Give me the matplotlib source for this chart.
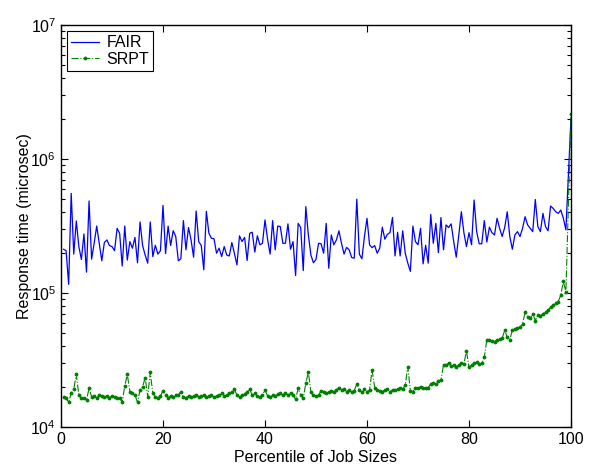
import numpy as np
import matplotlib
matplotlib.use("Agg")
import matplotlib.pyplot as plt

plt.rcParams['font.family'] = ['Liberation Sans', 'DejaVu Sans']
plt.rcParams['mathtext.fontset'] = 'custom'
plt.rcParams['mathtext.rm'] = 'Liberation Sans'
plt.rcParams['mathtext.it'] = 'Liberation Sans'

# Percentile of job sizes (x)
percentiles = np.append(np.arange(0.5, 99.01, 0.5), 100.0)

# FAIR response times (thousands of microseconds)
fair_k = [
    212, 207, 116, 554, 195, 345, 222, 178, 276, 143,
    486, 179, 235, 316, 235, 174, 238, 249, 226, 222,
    207, 304, 279, 159, 316, 176, 242, 216, 260, 168,
    339, 226, 192, 167, 339, 187, 227, 195, 207, 451,
    197, 316, 226, 292, 264, 174, 180, 347, 210, 308,
    249, 185, 409, 242, 226, 149, 407, 279, 256, 254,
    198, 216, 187, 222, 192, 189, 238, 198, 162, 267,
    242, 260, 175, 279, 284, 202, 267, 229, 235, 351,
    252, 195, 347, 210, 316, 313, 235, 235, 328, 212,
    242, 135, 331, 308, 147, 441, 271, 192, 168, 178,
    235,
    233, 198, 331, 153, 271, 229, 249, 291, 235, 195,
    219, 210, 184, 182, 502, 195, 180, 264, 361, 229,
    218, 226, 198, 216, 310, 252, 274, 282, 366, 189,
    284, 189, 291, 198, 167, 145, 316, 242, 229, 304,
    165, 227, 167, 386, 235, 331, 200, 366, 210, 322,
    308, 328, 242, 185, 271, 404, 282, 222, 282, 229,
    494, 287, 233, 233, 347, 240, 310, 282, 271, 361,
    304, 264, 308, 404, 264, 212, 271, 287, 264, 304,
    371, 322, 304, 287, 499, 313, 287, 393, 313, 291,
    446, 428, 404, 393, 416, 361, 296,
    2020,
]

# SRPT response times (thousands of microseconds)
srpt_k = [
    16.8, 16.4, 15.3, 17.8, 19.1, 24.7, 17.3, 16.6, 16.4, 15.9,
    19.4, 16.8, 17.0, 16.6, 17.3, 17.0, 16.8, 17.0, 16.6, 17.0,
    16.8, 16.6, 16.4, 15.4, 20.2, 24.7, 18.4, 17.8, 17.3, 15.3,
    18.9, 19.9, 23.4, 16.8, 25.6, 17.8, 16.8, 16.6, 17.0, 18.7,
    17.3, 16.6, 17.0, 16.8, 17.3, 17.3, 18.4, 16.8, 16.6, 17.0,
    16.8, 17.0, 17.3, 16.8, 17.0, 17.3, 16.8, 17.0, 17.3, 16.8,
    17.0, 17.3, 17.8, 17.0, 17.3, 17.8, 18.4, 19.1, 17.3, 16.8,
    17.3, 17.5, 18.4, 19.1, 17.3, 17.8, 17.0, 16.8, 17.3, 18.9,
    17.0, 16.8, 17.3, 17.0, 17.6, 17.8, 17.3, 18.0, 17.3, 17.8,
    17.3, 16.1, 19.4, 17.3, 16.4, 21.2, 25.6, 18.4, 17.3, 17.0,
    17.3,
    18.7, 18.4, 17.8, 18.1, 18.7, 18.4, 18.9, 19.7, 18.9, 19.1,
    18.4, 18.9, 18.4, 18.7, 20.9, 18.9, 18.1, 19.1, 18.4, 18.9,
    26.6, 19.7, 18.9, 18.7, 18.4, 18.9, 19.1, 18.4, 18.9, 18.9,
    19.1, 19.4, 19.1, 20.6, 28.2, 18.7, 18.4, 19.7, 19.4, 20.0,
    19.7, 19.7, 19.7, 20.9, 21.4, 21.1, 22.1, 22.4, 29.0, 29.0,
    29.9, 28.5, 29.0, 28.2, 29.0, 29.9, 29.4, 37.1, 27.8, 29.0,
    29.9, 30.3, 29.4, 29.9, 33.2, 44.6, 44.6, 43.9, 43.4, 44.6,
    45.1, 45.9, 52.9, 46.6, 44.6, 52.9, 53.8, 54.5, 55.5, 58.8,
    71.6, 66.6, 64.7, 69.8, 62.2, 68.6, 67.4, 69.8, 72.6, 74.7,
    78.2, 81.4, 83.8, 86.2, 96.6, 122, 102,
    2170,
]

fair = np.array(fair_k) * 1000.0
srpt = np.array(srpt_k) * 1000.0

fig = plt.figure(figsize=(5.9, 4.68), dpi=100)
ax = fig.add_axes([61/590, 1 - 427/468, 510/590, 402/468])

ax.semilogy(percentiles, fair, color='#0000ff', lw=0.9, label='FAIR')
ax.semilogy(percentiles, srpt, color='#008000', ls='-.', lw=0.8,
            marker='.', ms=3.5, label='SRPT')

ax.set_xlim(0, 100)
ax.set_ylim(1e4, 1e7)
ax.set_xticks([0, 20, 40, 60, 80, 100])

fs = 11.5
ax.tick_params(which='both', direction='in', top=True, right=True,
               labelsize=fs, width=0.8)
ax.tick_params(which='major', length=5)
ax.tick_params(which='minor', length=3)
for s in ax.spines.values():
    s.set_linewidth(1.0)

ax.set_xlabel('Percentile of Job Sizes', fontsize=fs, labelpad=2)
ax.set_ylabel('Response time (microsec)', fontsize=fs, labelpad=-1)

leg = ax.legend(loc='upper left', fontsize=fs, frameon=True, fancybox=False,
                edgecolor='black', framealpha=1, borderaxespad=0.4,
                borderpad=0.25, labelspacing=0.1, handlelength=1.7,
                handletextpad=0.5, numpoints=1)
leg.get_frame().set_linewidth(0.8)

fig.savefig('out.png', dpi=100)
